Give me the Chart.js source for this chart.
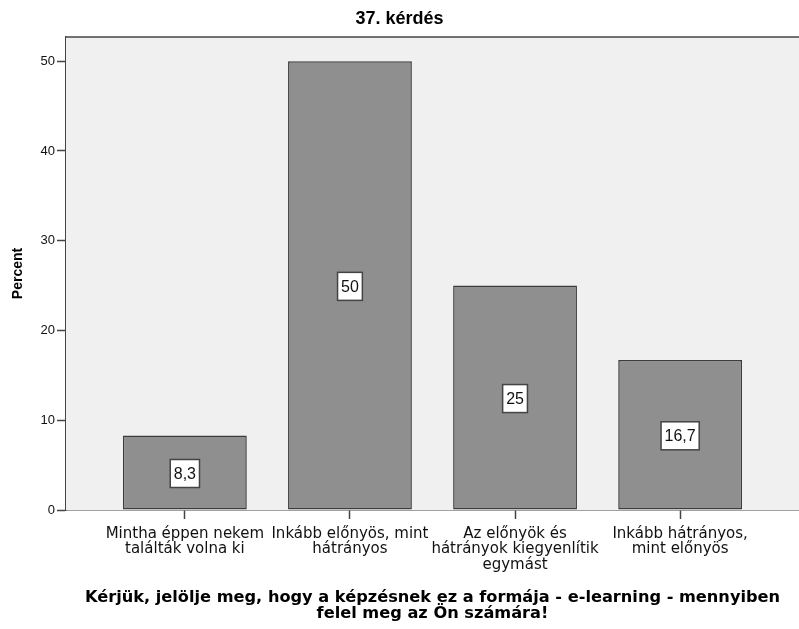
<!DOCTYPE html>
<html>
<head>
<meta charset="utf-8">
<script src="https://cdn.jsdelivr.net/npm/chart.js@4"></script>
<style>
  html, body { margin: 0; padding: 0; background: #ffffff; }
  #wrap { width: 799px; height: 629px; }
</style>
</head>
<body>
<div id="wrap"><canvas id="grafica" width="799" height="629"></canvas></div>
<script>
// Datos del gráfico
var kategoriak = [
    ["Mintha éppen nekem", "találták volna ki"],
    ["Inkább előnyös, mint", "hátrányos"],
    ["Az előnyök és", "hátrányok kiegyenlítik", "egymást"],
    ["Inkább hátrányos,", "mint előnyös"]
];
var szazalek = [8.3, 50, 25, 16.7];
var cimkek = ["8,3", "50", "25", "16,7"];
var yTicks = [0, 10, 20, 30, 40, 50];

var ARIAL = "Arial, 'Liberation Sans', sans-serif";
var DEJAVU = "'DejaVu Sans', Verdana, sans-serif";

// Fondo gris del área del gráfico + borde superior
var fondoPlugin = {
    id: 'fondo',
    beforeDatasetsDraw: function (chart) {
        var a = chart.chartArea, ctx = chart.ctx;
        ctx.save();
        ctx.fillStyle = '#f0f0f0';
        ctx.fillRect(a.left, a.top, a.right - a.left, a.bottom - a.top);
        ctx.strokeStyle = '#444444';
        ctx.lineWidth = 1.5;
        ctx.beginPath();
        ctx.moveTo(a.left, a.top);
        ctx.lineTo(a.right, a.top);
        ctx.stroke();
        ctx.restore();
    }
};

// Etiquetas en cajas blancas en el centro de cada barra
var etiquetasPlugin = {
    id: 'etiquetas',
    afterDatasetsDraw: function (chart) {
        var ctx = chart.ctx;
        var meta = chart.getDatasetMeta(0);
        ctx.save();
        ctx.font = "16px " + ARIAL;
        ctx.textAlign = 'center';
        ctx.textBaseline = 'middle';
        meta.data.forEach(function (bar, i) {
            var txt = cimkek[i];
            var cy = (bar.y + bar.base) / 2 + 1;
            var w = ctx.measureText(txt).width + 7;
            var h = 28;
            ctx.fillStyle = '#ffffff';
            ctx.fillRect(bar.x - w / 2, cy - h / 2, w, h);
            ctx.strokeStyle = '#444444';
            ctx.lineWidth = 1.5;
            ctx.strokeRect(bar.x - w / 2, cy - h / 2, w, h);
            ctx.fillStyle = '#111111';
            ctx.fillText(txt, bar.x, cy + 1);
        });
        ctx.restore();
    }
};

var ctx = document.getElementById("grafica").getContext("2d");
new Chart(ctx, {
    type: 'bar',
    data: {
        datasets: [{
            data: szazalek.map(function (v, i) { return { x: i, y: v }; }),
            backgroundColor: '#8f8f8f',
            borderColor: '#3c3c3c',
            borderWidth: 1.5,
            borderSkipped: false,
            barPercentage: 0.75,
            categoryPercentage: 1
        }]
    },
    options: {
        responsive: false,
        animation: false,
        layout: { padding: 0 },
        plugins: {
            legend: { display: false },
            tooltip: { enabled: false },
            title: {
                display: true,
                text: '37. kérdés',
                color: '#000000',
                font: { family: ARIAL, size: 18, weight: 'bold', lineHeight: 1.2 },
                padding: { top: 8, bottom: 7.4 }
            }
        },
        scales: {
            x: {
                type: 'linear',
                offset: false,
                min: -0.72,
                max: 3.72,
                afterBuildTicks: function (scale) {
                    scale.ticks = kategoriak.map(function (_, i) { return { value: i }; });
                },
                afterFit: function (scale) { scale.height = 119; },
                grid: {
                    display: true,
                    offset: false,
                    drawOnChartArea: false,
                    drawTicks: true,
                    tickLength: 9,
                    tickColor: '#444444',
                    tickWidth: 1.5
                },
                border: { display: true, color: '#444444', width: 1.5 },
                ticks: {
                    autoSkip: false,
                    maxRotation: 0,
                    padding: 7,
                    color: '#111111',
                    font: { family: DEJAVU, size: 15, lineHeight: 1.03 },
                    callback: function (v) { return kategoriak[v]; }
                },
                title: {
                    display: true,
                    text: ["Kérjük, jelölje meg, hogy a képzésnek ez a formája - e-learning - mennyiben", "felel meg az Ön számára!"],
                    color: '#000000',
                    font: { family: DEJAVU, size: 16.2, weight: 'bold', lineHeight: 0.95 },
                    padding: { top: 20, bottom: 8 }
                }
            },
            y: {
                min: 0,
                max: 52.7,
                afterBuildTicks: function (scale) {
                    scale.ticks = yTicks.map(function (v) { return { value: v }; });
                },
                afterFit: function (scale) { scale.width = 66; },
                grid: {
                    display: true,
                    drawOnChartArea: false,
                    drawTicks: true,
                    tickLength: 9,
                    tickColor: '#444444',
                    tickWidth: 1.5
                },
                border: { display: true, color: '#444444', width: 1.5 },
                ticks: {
                    padding: 2,
                    color: '#111111',
                    font: { family: ARIAL, size: 13 }
                },
                title: {
                    display: true,
                    text: 'Percent',
                    color: '#000000',
                    font: { family: ARIAL, size: 14, weight: 'bold', lineHeight: 1.2 },
                    padding: { top: 10, bottom: 0 }
                }
            }
        }
    },
    plugins: [fondoPlugin, etiquetasPlugin]
});
</script>
</body>
</html>
